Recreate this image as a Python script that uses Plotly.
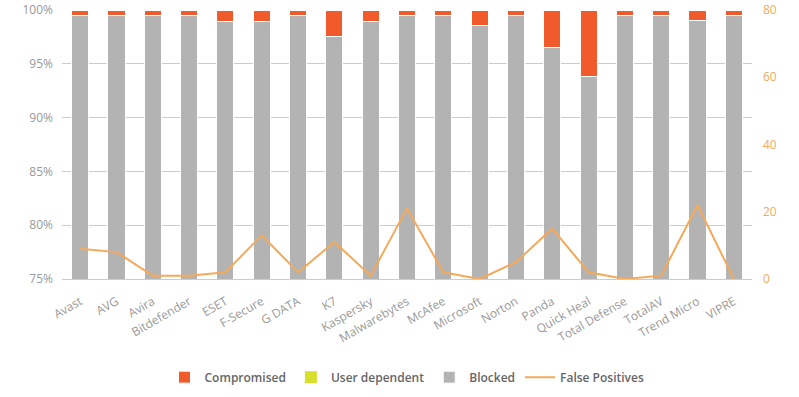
import plotly.graph_objects as go

categories = ["Avast", "AVG", "Avira", "Bitdefender", "ESET", "F-Secure", "G DATA", "K7",
              "Kaspersky", "Malwarebytes", "McAfee", "Microsoft", "Norton", "Panda",
              "Quick Heal", "Total Defense", "TotalAV", "Trend Micro", "VIPRE"]
blocked = [99.5, 99.5, 99.5, 99.5, 98.9, 98.9, 99.5, 97.5, 98.9, 99.5, 99.5, 98.6, 99.5,
           96.5, 93.8, 99.5, 99.5, 99.0, 99.5]
user_dependent = [0] * 19
compromised = [round(100 - b, 1) for b in blocked]
false_positives = [9, 8, 1, 1, 2, 13, 2, 11, 1, 21, 2, 0, 5, 15, 2, 0, 1, 22, 0]

left_ticks = [75, 80, 85, 90, 95, 100]
left_tick_text = ["75%", "80%", "85%", "90%", "95%", "100%"]
right_ticks = [0, 20, 40, 60, 80]

C_COMP = "#f15a2b"
C_USER = "#d7df2a"
C_BLOCK = "#b3b3b3"
C_FP = "#f5a95b"

fig = go.Figure()
fig.add_trace(go.Bar(x=categories, y=blocked, name="Blocked", marker=dict(color=C_BLOCK, line=dict(color="white", width=1)), legendrank=3))
fig.add_trace(go.Bar(x=categories, y=user_dependent, name="User dependent", marker=dict(color=C_USER, line=dict(color="white", width=0)), legendrank=2))
fig.add_trace(go.Bar(x=categories, y=compromised, name="Compromised", marker=dict(color=C_COMP, line=dict(color="white", width=1)), legendrank=1))
fig.add_trace(go.Scatter(x=categories, y=false_positives, name="False Positives", mode="lines",
                         line=dict(color=C_FP, width=2), yaxis="y2", legendrank=4))

fig.update_layout(
    barmode="stack",
    bargap=0.53,
    width=799, height=397,
    margin=dict(l=62, r=47, t=10, b=118),
    plot_bgcolor="white", paper_bgcolor="white",
    font=dict(family="Open Sans", size=12, color="#999999"),
    xaxis=dict(tickangle=-30, showgrid=False, showline=True, linecolor="#c8ccd6", linewidth=1,
               automargin=False, ticklabelstandoff=10,
               tickfont=dict(color="#999999", size=12)),
    yaxis=dict(range=[75, 100], tickvals=left_ticks, ticktext=left_tick_text, showgrid=True,
               gridcolor="#cccccc", gridwidth=1, zeroline=False, ticklabelstandoff=8,
               automargin=False, tickfont=dict(color="#999999", size=12)),
    yaxis2=dict(range=[0, 80], tickvals=right_ticks, overlaying="y", side="right",
                showgrid=False, zeroline=False, ticklabelstandoff=10, automargin=False,
                tickfont=dict(color=C_FP, size=12)),
    legend=dict(orientation="h", x=0.5, xanchor="center", y=0.05, yanchor="middle",
                xref="paper", yref="container",
                traceorder="normal", font=dict(color="#666666", size=12, weight=600),
                itemwidth=30),
    showlegend=True,
)

fig.write_html("out.html", post_script="document.body.style.margin='0';",
               config={"displayModeBar": False})
